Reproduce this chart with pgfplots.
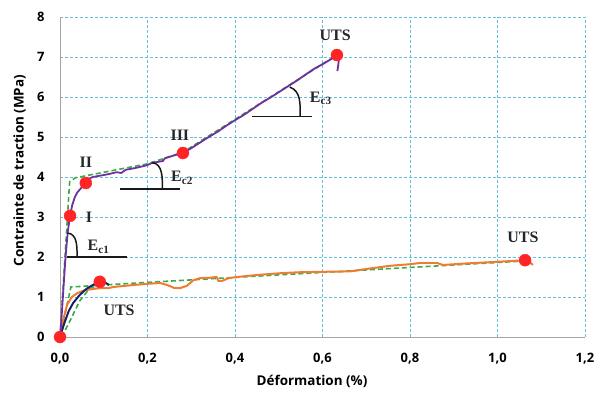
\documentclass[border=0pt]{standalone}
\usepackage{fontspec}
\setmainfont{Open Sans}
\newfontfamily\tnr{Liberation Serif}
\usepackage{pgfplots}
\pgfplotsset{compat=1.18}
\definecolor{gridc}{HTML}{3FAFCC}
\definecolor{purp}{HTML}{7030A0}
\definecolor{navyc}{HTML}{1B1F6B}
\definecolor{orng}{HTML}{ED7D31}
\definecolor{grn}{HTML}{3DAA4A}
\definecolor{redd}{HTML}{FF2525}
\begin{document}
\begin{tikzpicture}
\begin{axis}[
  scale only axis, width=525bp, height=320bp,
  xmin=0, xmax=1.2, ymin=0, ymax=8,
  xtick={0,0.2,...,1.2}, ytick={0,1,...,8},
  axis x line*=bottom, axis y line*=left,
  axis line style={draw=gray!70, line width=0.9pt, -},
  major tick length=0pt,
  grid=major,
  major grid style={dash pattern=on 3pt off 2pt, gridc!80, line width=0.9pt},
  tick label style={font=\bfseries\fontsize{13}{15}\selectfont},
  /pgf/number format/assume math mode=true,
  xticklabel style={/pgf/number format/.cd, use comma, fixed, fixed zerofill, precision=1, /tikz/.cd, yshift=-13bp},
  yticklabel style={xshift=-12bp},
  xlabel={Déformation (\%)},
  ylabel={Contrainte de traction (MPa)},
  label style={font=\bfseries\fontsize{13.5}{15}\selectfont},
  xlabel style={at={(axis description cs:0.48,-0.138)}, anchor=center},
  ylabel style={at={(axis description cs:-0.077,0.52)}, anchor=center},
  clip=false,
]
% green dashed fits
\addplot[grn, dash pattern=on 5pt off 3pt, line width=1.6pt] coordinates {(0,0) (0.022,3.88) (0.035,3.98) (0.2,4.33) (0.281,4.62) (0.633,7.05)};
\addplot[grn, dash pattern=on 5pt off 3pt, line width=1.6pt] coordinates {(0,0) (0.025,1.25) (0.206,1.37) (0.77,1.72) (1.06,1.9)};
\addplot[grn, dash pattern=on 5pt off 3pt, line width=1.6pt] coordinates {(0.004,0) (0.025,0.45) (0.045,0.9) (0.065,1.18) (0.085,1.3)};
% orange curve
\addplot[orng, line width=2pt] coordinates {(0,0) (0.008,0.45) (0.016,0.8) (0.027,1.0) (0.04,1.1) (0.057,1.17) (0.075,1.2) (0.091,1.22) (0.11,1.22) (0.122,1.25) (0.14,1.27) (0.168,1.3) (0.2,1.33) (0.229,1.35) (0.245,1.3) (0.26,1.23) (0.274,1.22) (0.29,1.28) (0.305,1.42) (0.32,1.47) (0.34,1.48) (0.358,1.5) (0.362,1.4) (0.37,1.4) (0.385,1.47) (0.404,1.5) (0.45,1.55) (0.51,1.6) (0.55,1.62) (0.6,1.63) (0.663,1.64) (0.7,1.7) (0.754,1.78) (0.8,1.82) (0.823,1.85) (0.862,1.85) (0.875,1.8) (0.93,1.84) (1.0,1.88) (1.063,1.92) (1.075,1.86) (1.081,1.8)};
% navy curve
\addplot[navyc, line width=2pt] coordinates {(0,0) (0.01,0.35) (0.02,0.65) (0.03,0.85) (0.045,1.05) (0.06,1.2) (0.075,1.3) (0.091,1.38) (0.105,1.35) (0.112,1.3)};
% purple curve
\addplot[purp, line width=1.8pt] coordinates {(0,0) (0.003,0.4) (0.006,0.9) (0.009,1.4) (0.012,1.9) (0.015,2.3) (0.018,2.65) (0.023,3.03) (0.028,3.3) (0.034,3.5) (0.04,3.62) (0.048,3.72) (0.055,3.8) (0.059,3.85) (0.065,3.95) (0.075,4.0) (0.09,4.03) (0.11,4.07) (0.13,4.12) (0.14,4.1) (0.15,4.18) (0.17,4.22) (0.19,4.27) (0.2,4.3) (0.21,4.35) (0.22,4.37) (0.235,4.4) (0.24,4.47) (0.255,4.52) (0.27,4.57) (0.281,4.6) (0.3,4.72) (0.32,4.86) (0.34,5.0) (0.36,5.13) (0.38,5.28) (0.4,5.42) (0.42,5.55) (0.44,5.7) (0.46,5.85) (0.48,5.98) (0.5,6.12) (0.52,6.26) (0.54,6.4) (0.56,6.55) (0.58,6.7) (0.6,6.82) (0.62,6.95) (0.633,7.05) (0.638,6.98) (0.636,6.8) (0.634,6.65)};
% red points
\addplot[only marks, mark=*, mark size=6bp, redd, mark options={draw=redd, fill=redd}] coordinates {(0,0) (0.023,3.03) (0.059,3.85) (0.281,4.6) (0.633,7.05) (0.091,1.38) (1.063,1.92)};
% annotations
\draw[black!90, line width=1.5pt] (axis cs:0.015,2.0) -- (axis cs:0.153,2.0);
\draw[black!90, line width=1.5pt] (axis cs:0.017,2.6) to[out=-5,in=90] (axis cs:0.039,2.0);
\draw[black!90, line width=1.5pt] (axis cs:0.137,3.7) -- (axis cs:0.274,3.7);
\draw[black!90, line width=1.5pt] (axis cs:0.21,4.36) to[out=-5,in=90] (axis cs:0.234,3.7);
\draw[black!90, line width=1.5pt] (axis cs:0.439,5.51) -- (axis cs:0.576,5.51);
\draw[black!90, line width=1.5pt] (axis cs:0.525,6.25) to[out=-20,in=90] (axis cs:0.549,5.51);
\begin{scope}[every node/.style={font=\tnr\bfseries\fontsize{16}{18}\selectfont, text=black!85, inner sep=0pt}]
\node at (axis cs:0.066,3.0) {I};
\node at (axis cs:0.059,4.38) {II};
\node at (axis cs:0.274,5.05) {III};
\node at (axis cs:0.629,7.55) {UTS};
\node at (axis cs:1.058,2.5) {UTS};
\node at (axis cs:0.135,0.68) {UTS};
\node at (axis cs:0.088,2.25) {E\textsubscript{c1}};
\node at (axis cs:0.279,3.98) {E\textsubscript{c2}};
\node at (axis cs:0.596,5.97) {E\textsubscript{c3}};
\end{scope}
\coordinate (O) at (rel axis cs:0,0);
\end{axis}
\pgfresetboundingbox
\path[use as bounding box] ([shift={(-60bp,-59bp)}]O) rectangle ([shift={(538bp,337bp)}]O);
\end{tikzpicture}
\end{document}
